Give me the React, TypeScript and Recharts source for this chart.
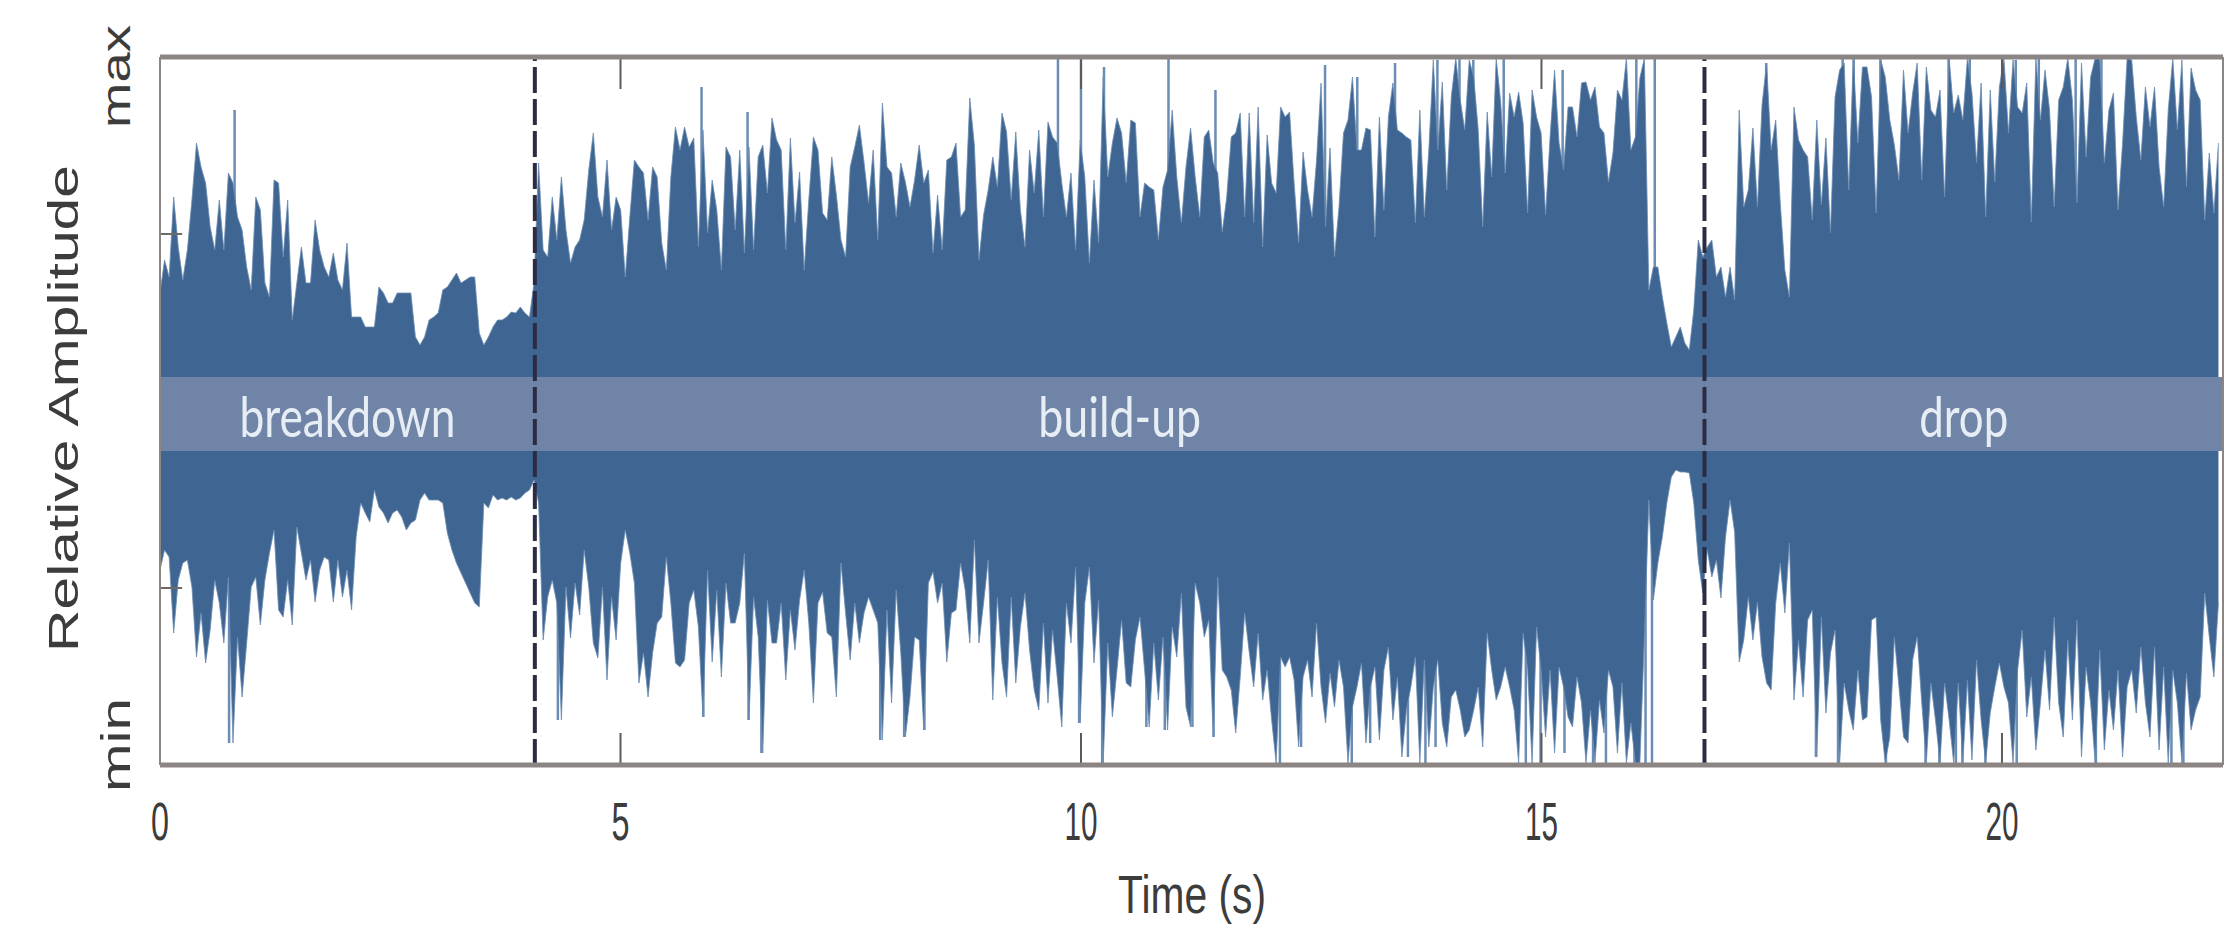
import {
  Area,
  ComposedChart,
  ReferenceArea,
  ReferenceLine,
  XAxis,
  YAxis,
} from 'recharts';

// amplitude envelope, one list per stretch of time
const upperA = [118,151,134,214,164,131,161,211,268,244,228,184,161,211,161,238,228,194,181,144,121,214,201,128,114,231,228,154,211,91,128,164,128,128,191,161,144,134,158,131,121,168,94,94,94,84,84,84,124,118,108,108,118,118,118,118,74,66,74,91,94,98,121,124,131,138,128,131,134,134,78,66,74,84,91,91,94,99,98,104,98,94,128,248,161,154,214,171,234,181,148,164,171,191,241,278,214,194,251,181,214,201,134,194,251,244,238,191,244,234,168,141,234,284];
const upperB = [261,284,264,273,164,281,178,231,201,141,264,254,181,261,158,264,161,254,266,218,293,271,261,161,273,188,239,141,211,274,261,198,191,254,216,171,154,244,264,286,249,208,261,171,308,244,238,194,248,229,204,231,266,228,241,158,216,161,251,254,268,194,201,313,266,151,196,221,254,224,298,279,211,279,201,164,261,218,281,194,289,274,268,228,194,238,161,271,234,148,231,168,334,234,268,293,278,228,291,288,194,228,224,221,171,224,241,301,234,188,244,283,234];
const upperC = [194,274,281,248,238,179,214,274,278,298,194,298,188,304,164,276,228,218,304,294,299,228,168,259,221,194,251,328,184,263,154,204,278,291,334,261,261,283,281,174,294,201,294,328,281,278,274,271,188,301,194,261,351,261,329,221,314,353,311,281,351,334,281,184,299,234,353,309,238,318,294,319,288,198,321,294,278,196,274,341,268,241,304,304,274,328,329,311,324,284,278,229,258,321,311,353,261,274,333,353,121,144,144,114,88,64,74,84,68,61,101,171,154];
const upperD = [164,171,134,144,114,144,111,301,204,221,283,204,306,348,261,291,208,141,114,304,271,261,254,191,291,206,273,178,314,341,348,221,353,268,344,344,314,198,351,334,291,266,231,341,278,318,348,231,344,301,294,321,214,353,298,316,291,353,318,248,328,194,321,229,324,353,278,351,304,298,328,189,353,291,341,301,204,311,324,353,311,208,348,254,334,353,353,248,301,318,201,268,353,351,294,251,324,284,324,244,204,301,353,281,351,224,343,321,311,191,258,198,268];

const lowerA = [-159,-139,-146,-222,-169,-152,-149,-176,-246,-202,-252,-219,-169,-192,-232,-166,-332,-226,-286,-232,-176,-166,-214,-169,-142,-119,-199,-206,-169,-214,-116,-142,-169,-149,-191,-159,-146,-149,-191,-149,-186,-159,-199,-126,-92,-102,-111,-79,-96,-102,-112,-102,-99,-106,-119,-112,-109,-89,-82,-89,-89,-89,-92,-122,-139,-152,-162,-172,-182,-192,-196,-92,-97,-84,-89,-87,-89,-86,-89,-87,-82,-79,-69,-92,-229,-186,-169,-192,-309,-176,-227,-172,-204,-139,-176,-232,-247,-176,-269,-186,-229,-152,-119,-142,-172,-272,-242,-286,-242,-212,-206,-146,-192,-252];
const lowerB = [-256,-249,-192,-179,-216,-306,-159,-251,-179,-266,-172,-212,-212,-192,-142,-309,-186,-226,-342,-189,-232,-232,-192,-269,-199,-239,-189,-159,-212,-292,-192,-181,-222,-226,-286,-152,-202,-249,-192,-232,-202,-186,-199,-212,-329,-199,-292,-179,-242,-326,-286,-226,-229,-319,-172,-161,-192,-172,-251,-202,-199,-152,-179,-232,-129,-232,-192,-149,-289,-186,-252,-286,-186,-272,-216,-182,-239,-279,-299,-212,-292,-219,-266,-316,-192,-232,-156,-312,-192,-156,-252,-189,-352,-232,-306,-259,-209,-272,-276,-229,-206,-259,-316,-232,-289,-226,-319,-216,-246,-182,-296,-316,-172];
const lowerC = [-192,-226,-209,-326,-166,-259,-266,-279,-322,-266,-202,-241,-276,-222,-289,-259,-309,-352,-246,-256,-246,-269,-336,-266,-249,-286,-212,-276,-312,-262,-296,-249,-276,-352,-296,-276,-252,-332,-276,-256,-329,-259,-236,-309,-266,-346,-299,-276,-246,-352,-249,-336,-276,-249,-312,-336,-286,-279,-299,-326,-319,-299,-276,-336,-222,-259,-289,-276,-256,-276,-299,-352,-222,-259,-352,-216,-259,-326,-259,-342,-256,-276,-306,-316,-266,-292,-352,-299,-352,-289,-322,-259,-276,-342,-272,-352,-312,-352,-352,-226,-89,-189,-152,-126,-92,-66,-59,-61,-61,-62,-92,-149,-182];
const lowerD = [-139,-166,-149,-187,-126,-89,-121,-251,-229,-186,-229,-191,-246,-272,-279,-192,-152,-202,-132,-289,-229,-286,-209,-199,-346,-206,-302,-242,-219,-352,-272,-299,-319,-259,-309,-306,-209,-206,-309,-352,-326,-226,-276,-326,-332,-249,-226,-292,-352,-272,-309,-352,-272,-309,-352,-272,-352,-269,-349,-249,-309,-352,-302,-276,-252,-276,-292,-352,-259,-219,-306,-266,-339,-292,-239,-299,-206,-292,-326,-229,-309,-209,-346,-256,-292,-352,-239,-339,-279,-319,-259,-346,-276,-259,-302,-236,-292,-326,-236,-339,-256,-352,-259,-292,-352,-262,-319,-299,-286,-182,-226,-266,-192];

// the thin spikes that stand above the solid part of the waveform
const upperSpikeTimes = [0.81,5.88,6.38,9.75,10.0,10.25,10.95,11.46,12.65,13.0,13.41,13.87,14.11,14.26,14.59,15.23,16.03,16.23,17.44,18.27,18.39,18.68,19.42,19.65,20.15,20.40,20.80,21.08];
const upperSpikeValues = [301,324,299,354,354,344,354,321,346,334,348,351,353,351,353,341,353,353,348,353,353,353,353,353,351,353,353,353];
const lowerSpikeTimes = [0.75,4.32,5.90,6.39,6.53,7.82,8.08,8.30,9.98,10.23,10.71,10.91,11.21,11.44,12.16,12.39,12.94,13.14,13.55,13.74,13.85,14.83,14.99,15.25,15.56,15.70,16.01,16.13,16.20,17.98,18.22,18.74,19.17,19.32,19.50,19.57,19.82,20.16,21.02,21.84,21.97];
const lowerSpikeValues = [-332,-309,-306,-309,-342,-329,-326,-319,-312,-352,-316,-319,-316,-326,-352,-336,-352,-332,-346,-352,-336,-352,-352,-342,-352,-352,-352,-352,-352,-346,-352,-352,-352,-352,-352,-352,-352,-352,-352,-352,-352];

const segmentEdges = [0, 5.646, 11.29, 16.8, 22.4];
const timeTicks = [0, 5, 10, 15, 20];
const sectionEdges = [0, 4.07, 16.77, 22.4];
const sectionNames = ['breakdown', 'build-up', 'drop'];
const sectionLabelWidths = [216, 163, 89];
const ampMax = 354;
const ampTick = 177;

const DARK = '#3f6692';
const LIGHT = '#6c8db3';
const FRAME = '#8b8583';
const INK = '#3c3c3c';

function envelope(parts: number[][]) {
  return parts.flatMap((values, p) =>
    values.map((v, i) => ({
      t: segmentEdges[p] + (i / values.length) * (segmentEdges[p + 1] - segmentEdges[p]),
      v,
    })),
  );
}

// base -> peak -> gap, so one series draws all the separate spikes
function spikes(times: number[], values: number[]) {
  return times.flatMap((t, i) => [
    { t, v: Math.sign(values[i]) * 70 },
    { t, v: values[i] },
    { t, v: null },
  ]);
}

const upperData = envelope([upperA, upperB, upperC, upperD]);
const lowerData = envelope([lowerA, lowerB, lowerC, lowerD]);
const upperSpikes = spikes(upperSpikeTimes, upperSpikeValues);
const lowerSpikes = spikes(lowerSpikeTimes, lowerSpikeValues);

function TimeTick({ x, payload }: any) {
  const label = String(payload.value);
  return (
    <text
      x={x}
      y={840}
      textAnchor="middle"
      fontFamily="Liberation Sans"
      fontSize={54}
      fill={INK}
      textLength={label.length > 1 ? 33 : 18}
      lengthAdjust="spacingAndGlyphs"
    >
      {label}
    </text>
  );
}

function AmpTick({ payload }: any) {
  const isMax = payload.value > 0;
  const startY = isMax ? 128 : 792;
  return (
    <text
      x={130}
      y={startY}
      transform={`rotate(-90 130 ${startY})`}
      fontFamily="Liberation Sans"
      fontSize={40}
      fill={INK}
      textLength={isMax ? 103 : 94}
      lengthAdjust="spacingAndGlyphs"
    >
      {isMax ? 'max' : 'min'}
    </text>
  );
}

function SectionLabel({ viewBox, text, labelWidth }: any) {
  return (
    <text
      x={viewBox.x + viewBox.width / 2}
      y={437}
      textAnchor="middle"
      fontFamily="Lato"
      fontSize={56}
      fill="#e6edf5"
      textLength={labelWidth}
      lengthAdjust="spacingAndGlyphs"
    >
      {text}
    </text>
  );
}

export default function App() {
  return (
    <div style={{ position: 'absolute', left: 0, top: 0, width: 2227, height: 952, background: '#fff' }}>
      <ComposedChart
        width={2227}
        height={952}
        margin={{ top: 57, right: 4, bottom: 0, left: 0 }}
      >
        <XAxis
          type="number"
          dataKey="t"
          domain={[0, 22.4]}
          ticks={timeTicks}
          tick={TimeTick}
          tickLine={false}
          height={187}
          axisLine={false}
          allowDataOverflow
        />
        <YAxis
          type="number"
          domain={[-ampMax, ampMax]}
          ticks={[-ampMax, ampMax]}
          tick={AmpTick}
          tickLine={false}
          axisLine={false}
          width={160}
        />
        <Area data={upperSpikes} dataKey="v" type="linear" stroke={LIGHT} strokeWidth={2.5} fill="none" baseValue={0} dot={false} connectNulls={false} isAnimationActive={false} />
        <Area data={lowerSpikes} dataKey="v" type="linear" stroke={LIGHT} strokeWidth={2.5} fill="none" baseValue={0} dot={false} connectNulls={false} isAnimationActive={false} />
        <Area data={upperData} dataKey="v" type="linear" stroke={LIGHT} strokeWidth={0.8} fill={DARK} fillOpacity={1} baseValue={0} dot={false} isAnimationActive={false} />
        <Area data={lowerData} dataKey="v" type="linear" stroke={LIGHT} strokeWidth={0.8} fill={DARK} fillOpacity={1} baseValue={0} dot={false} isAnimationActive={false} />
        {sectionNames.map((name, i) => (
          <ReferenceArea
            key={name}
            x1={sectionEdges[i]}
            x2={sectionEdges[i + 1]}
            y1={-40}
            y2={34}
            fill="#7084a7"
            fillOpacity={1}
            stroke="none"
            label={<SectionLabel text={name} labelWidth={sectionLabelWidths[i]} />}
          />
        ))}
        {/* inward tick marks */}
        {timeTicks.slice(1).map((t) => (
          <ReferenceLine key={`tt${t}`} segment={[{ x: t, y: ampMax }, { x: t, y: 322 }]} stroke="#5d5a5c" strokeWidth={2} />
        ))}
        {timeTicks.slice(1).map((t) => (
          <ReferenceLine key={`tb${t}`} segment={[{ x: t, y: -ampMax }, { x: t, y: -322 }]} stroke="#5d5a5c" strokeWidth={2} />
        ))}
        {[ampTick, -ampTick].map((a) => (
          <ReferenceLine key={`ta${a}`} segment={[{ x: 0, y: a }, { x: 0.24, y: a }]} stroke="#6e6a68" strokeWidth={2} />
        ))}
        {sectionEdges.slice(1, 3).map((t) => (
          <ReferenceLine key={t} x={t} stroke="#2b2c44" strokeWidth={4} strokeDasharray="26 6" />
        ))}
        <ReferenceLine y={ampMax} stroke={FRAME} strokeWidth={5} />
        <ReferenceLine y={-ampMax} stroke={FRAME} strokeWidth={5} />
        <ReferenceLine x={0} stroke={FRAME} strokeWidth={2} />
        <ReferenceLine x={22.4} stroke={FRAME} strokeWidth={2} />
        <text
          x={78}
          y={652}
          transform="rotate(-90 78 652)"
          fontFamily="Liberation Sans"
          fontSize={42}
          fill={INK}
          textLength={487}
          lengthAdjust="spacingAndGlyphs"
        >
          Relative Amplitude
        </text>
        <text
          x={1118}
          y={913}
          fontFamily="Liberation Sans"
          fontSize={54}
          fill={INK}
          textLength={148}
          lengthAdjust="spacingAndGlyphs"
        >
          Time (s)
        </text>
      </ComposedChart>
    </div>
  );
}
